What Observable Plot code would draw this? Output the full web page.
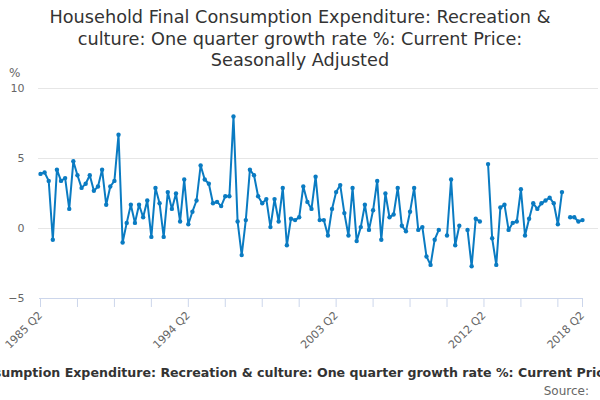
<!DOCTYPE html>
<html>
<head>
<meta charset="utf-8">
<script src="https://cdn.jsdelivr.net/npm/d3@7"></script>
<script src="https://cdn.jsdelivr.net/npm/@observablehq/plot@0.6"></script>
<style>
  html, body { margin: 0; padding: 0; background: #fff; }
  body { font-family: "DejaVu Sans", sans-serif; }
  #wrap { position: relative; width: 600px; height: 400px; overflow: hidden; }
  #title { position: absolute; left: 0; top: 7px; width: 600px; text-align: center;
           font-size: 17.7px; line-height: 21.5px; color: #333; }
  #unit { position: absolute; left: 9px; top: 66px; font-size: 12px; color: #666; }
  #chart { position: absolute; left: 0; top: 75px; }
  #foot { position: absolute; left: 0; top: 365px; width: 600px; overflow: hidden; white-space: nowrap;
          font-size: 12.6px; line-height: 16px; font-weight: bold; color: #333; }
  #foot span { display: inline-block; position: relative; left: 307px; transform: translateX(-50%); }
  #source { position: absolute; right: 11px; top: 383px; font-size: 12px; line-height: 16px; color: #666; }
</style>
</head>
<body>
<div id="wrap">
  <div id="title">Household Final Consumption Expenditure: Recreation &amp;<br>culture: One quarter growth rate %: Current Price:<br>Seasonally Adjusted</div>
  <div id="unit">%</div>
  <div id="chart"></div>
  <div id="foot"><span>Household Final Consumption Expenditure: Recreation &amp; culture: One quarter growth rate %: Current Price: Seasonally Adjusted</span></div>
  <div id="source">Source:</div>
</div>
<script>
const startYear = 1985;
const startQuarter = 2;
const growth = [
  3.9, 4.0, 3.4, -0.8, 4.2, 3.4, 3.6, 1.4, 4.8, 3.8,
  2.9, 3.2, 3.8, 2.7, 3.0, 4.2, 1.7, 3.0, 3.4, 6.7,
  -1.0, 0.4, 1.7, 0.4, 1.7, 0.8, 2.0, -0.6, 2.9, 1.8,
  -0.6, 2.6, 1.4, 2.5, 0.5, 3.5, 0.3, 1.2, 2.0, 4.5,
  3.5, 3.2, 1.8, 1.9, 1.6, 2.3, 2.3, 8.0, 0.5, -1.9,
  0.6, 4.2, 3.8, 2.3, 1.8, 2.1, 0.1, 2.1, 0.5, 2.9,
  -1.2, 0.7, 0.6, 0.8, 3.0, 1.9, 1.4, 3.7, 0.6, 0.6,
  -0.5, 1.4, 2.6, 3.1, 1.1, -0.5, 2.9, -0.9, 0.1, 1.7,
  -0.1, 1.3, 3.4, -0.8, 2.5, 0.8, 1.0, 2.9, 0.2, -0.2,
  1.2, 2.9, -0.1, 0.1, -2.0, -2.6, -0.8, -0.1, null, -0.5,
  3.5, -1.2, 0.2, null, -0.1, -2.7, 0.7, 0.5, null, 4.6,
  -0.7, -2.6, 1.5, 1.7, -0.1, 0.4, 0.5, 2.8, -0.5, 0.7,
  1.8, 1.4, 1.8, 2.0, 2.2, 1.8, 0.3, 2.6, null, 0.8,
  0.8, 0.5, 0.6
];
const labelTicks = ["1985 Q2", "1994 Q2", "2003 Q2", "2012 Q2", "2018 Q2"];
const yTicks = [-5, 0, 5, 10];
const gridValues = [0, 5, 10];

const periods = growth.map((_, i) => {
  const q = startQuarter - 1 + i;
  return `${startYear + Math.floor(q / 4)} Q${(q % 4) + 1}`;
});
const data = periods.map((p, i) => ({period: p, value: growth[i]}));
const markTicks = periods.filter((p, i) => i % 9 === 0 || i === periods.length - 1);

const chart = Plot.plot({
  width: 600,
  height: 280,
  marginLeft: 40,
  marginRight: 18,
  marginTop: 13,
  marginBottom: 57,
  style: {fontFamily: "DejaVu Sans, sans-serif", fontSize: "11px", color: "#666", background: "transparent"},
  x: {type: "point", domain: periods, padding: 0, round: false},
  y: {domain: [-5, 10]},
  marks: [
    Plot.ruleY(gridValues, {stroke: "#e6e6e6", insetLeft: -2, insetRight: -16}),
    Plot.ruleY([-5], {stroke: "#ccd6eb", insetLeft: -1, insetRight: -1}),
    Plot.axisY({ticks: yTicks, tickSize: 0, tickPadding: 16, label: null, fill: "#666"}),
    Plot.axisX({ticks: markTicks, tickSize: 9, stroke: "#ccd6eb", tickFormat: () => "", label: null}),
    Plot.axisX({ticks: labelTicks, tickSize: 0, tickPadding: 15, tickRotate: -45, label: null, fill: "#666"}),
    Plot.line(data, {x: "period", y: "value", stroke: "#0a7bc2", strokeWidth: 2}),
    Plot.dot(data.filter(d => d.value != null), {x: "period", y: "value", r: 2.2, fill: "#0a7bc2"})
  ]
});
document.getElementById("chart").appendChild(chart);
</script>
</body>
</html>
